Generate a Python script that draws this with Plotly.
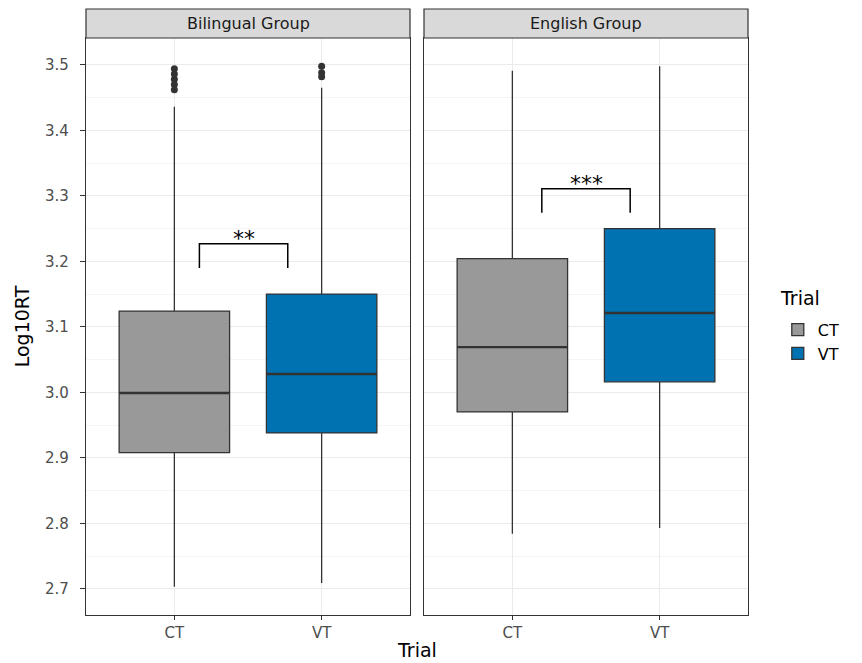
import plotly.graph_objects as go

# ---- data ----
groups = ["Bilingual Group", "English Group"]
trials = ["CT", "VT"]
# per group, per trial
q1 = {"Bilingual Group": [2.908, 2.938], "English Group": [2.970, 3.016]}
median = {"Bilingual Group": [2.999, 3.028], "English Group": [3.069, 3.121]}
q3 = {"Bilingual Group": [3.124, 3.150], "English Group": [3.204, 3.250]}
lower_fence = {"Bilingual Group": [2.703, 2.709], "English Group": [2.784, 2.793]}
upper_fence = {"Bilingual Group": [3.436, 3.465], "English Group": [3.491, 3.498]}
outliers = {
    "Bilingual Group": [[3.462, 3.470, 3.478, 3.486, 3.494], [3.482, 3.488, 3.498]],
    "English Group": [[], []],
}
# significance brackets
bracket_x0 = [0.17, 0.20]
bracket_x1 = [0.77, 0.80]
bracket_top = [3.227, 3.311]
bracket_bottom = [3.190, 3.274]
bracket_label = ["**", "***"]
y_ticks = [2.7, 2.8, 2.9, 3.0, 3.1, 3.2, 3.3, 3.4, 3.5]

colors = {"CT": "#999999", "VT": "#0072B2"}
line_col = "#333333"
font_fam = "DejaVu Sans, Liberation Sans, Arial, sans-serif"

fig = go.Figure()
axes = [("x", "y"), ("x2", "y2")]
box_w = 0.75
shapes = []
annotations = []

for gi, g in enumerate(groups):
    xa, ya = axes[gi]
    for ti, t in enumerate(trials):
        fig.add_trace(go.Box(
            x=[t], q1=[q1[g][ti]], median=[median[g][ti]], q3=[q3[g][ti]],
            lowerfence=[lower_fence[g][ti]], upperfence=[upper_fence[g][ti]],
            width=box_w, fillcolor=colors[t],
            line=dict(color=line_col, width=1.3), whiskerwidth=0,
            boxpoints=False, name=t, legendgroup=t, showlegend=(gi == 0),
            xaxis=xa, yaxis=ya, hoverinfo="skip",
        ))
        # thicker median line (ggplot style)
        shapes.append(dict(type="line", xref=xa, yref=ya,
                           x0=ti - box_w / 2, x1=ti + box_w / 2,
                           y0=median[g][ti], y1=median[g][ti],
                           line=dict(color=line_col, width=2.4)))
        if outliers[g][ti]:
            fig.add_trace(go.Scatter(
                x=[t] * len(outliers[g][ti]), y=outliers[g][ti], mode="markers",
                marker=dict(color=line_col, size=7), showlegend=False,
                xaxis=xa, yaxis=ya, hoverinfo="skip",
            ))
    # bracket
    shapes.append(dict(type="path", xref=xa, yref=ya,
                       path=f"M {bracket_x0[gi]},{bracket_bottom[gi]} L {bracket_x0[gi]},{bracket_top[gi]} "
                            f"L {bracket_x1[gi]},{bracket_top[gi]} L {bracket_x1[gi]},{bracket_bottom[gi]}",
                       line=dict(color="black", width=1.5)))
    annotations.append(dict(x=(bracket_x0[gi] + bracket_x1[gi]) / 2, y=bracket_top[gi],
                            xref=xa, yref=ya, text=bracket_label[gi], showarrow=False,
                            xanchor="center", yanchor="bottom", yshift=-9,
                            font=dict(size=22, color="black", family=font_fam)))

# strips
strip_h = 29 / 577
domains = [[0, 324 / 662], [338 / 662, 1]]
for gi, g in enumerate(groups):
    d = domains[gi]
    shapes.append(dict(type="rect", xref="paper", yref="paper", x0=d[0], x1=d[1],
                       y0=1, y1=1 + strip_h, fillcolor="#D9D9D9",
                       line=dict(color=line_col, width=1.2), layer="above"))
    annotations.append(dict(x=(d[0] + d[1]) / 2, y=1 + strip_h / 2, xref="paper", yref="paper",
                            text=g, showarrow=False, xanchor="center", yanchor="middle",
                            font=dict(size=16, color="#1A1A1A", family=font_fam)))

# x-axis title
annotations.append(dict(x=0.5, y=-0.061, xref="paper", yref="paper", text="Trial",
                        showarrow=False, xanchor="center", yanchor="middle",
                        font=dict(size=19, color="black", family=font_fam)))
# legend title
annotations.append(dict(x=1.046, y=0.549, xref="paper", yref="paper", text="Trial",
                        showarrow=False, xanchor="left", yanchor="middle",
                        font=dict(size=19, color="black", family=font_fam)))

tickfont = dict(size=15, color="#4D4D4D", family=font_fam)
xax_common = dict(type="category", categoryorder="array", categoryarray=trials,
                  range=[-0.6, 1.6], showgrid=True, gridcolor="#EBEBEB", gridwidth=1.2,
                  showline=True, mirror=True, linecolor=line_col, linewidth=1.2,
                  ticks="outside", ticklen=4, tickcolor=line_col,
                  tickfont=tickfont, zeroline=False)
yax_common = dict(range=[2.66, 3.541], tickvals=y_ticks, tickformat=".1f",
                  showgrid=True, gridcolor="#EBEBEB", gridwidth=1.2,
                  minor=dict(dtick=0.05, tick0=2.65, showgrid=True, gridcolor="#F5F5F5", gridwidth=0.8),
                  showline=True, mirror=True, linecolor=line_col, linewidth=1.2,
                  zeroline=False)

fig.update_layout(
    width=862, height=663,
    margin=dict(l=86, r=114, t=38, b=48, autoexpand=False),
    plot_bgcolor="white", paper_bgcolor="white",
    font=dict(family=font_fam),
    xaxis=dict(domain=domains[0], anchor="y", **xax_common),
    xaxis2=dict(domain=domains[1], anchor="y2", **xax_common),
    yaxis=dict(anchor="x", ticks="outside", ticklen=5, tickcolor=line_col,
               tickfont=tickfont, ticklabelstandoff=8,
               title=dict(text="Log10RT", font=dict(size=19, color="black", family=font_fam), standoff=10),
               **yax_common),
    yaxis2=dict(anchor="x2", matches="y", showticklabels=False, ticks="", **yax_common),
    shapes=shapes, annotations=annotations,
    legend=dict(x=1.045, y=0.524, xanchor="left", yanchor="top",
                font=dict(size=16, color="black", family=font_fam),
                tracegroupgap=0, bgcolor="rgba(0,0,0,0)"),
    boxgap=0, boxgroupgap=0,
)

fig.write_html("out.html", config={"displayModeBar": False},
               post_script="document.body.style.margin='0px';")
